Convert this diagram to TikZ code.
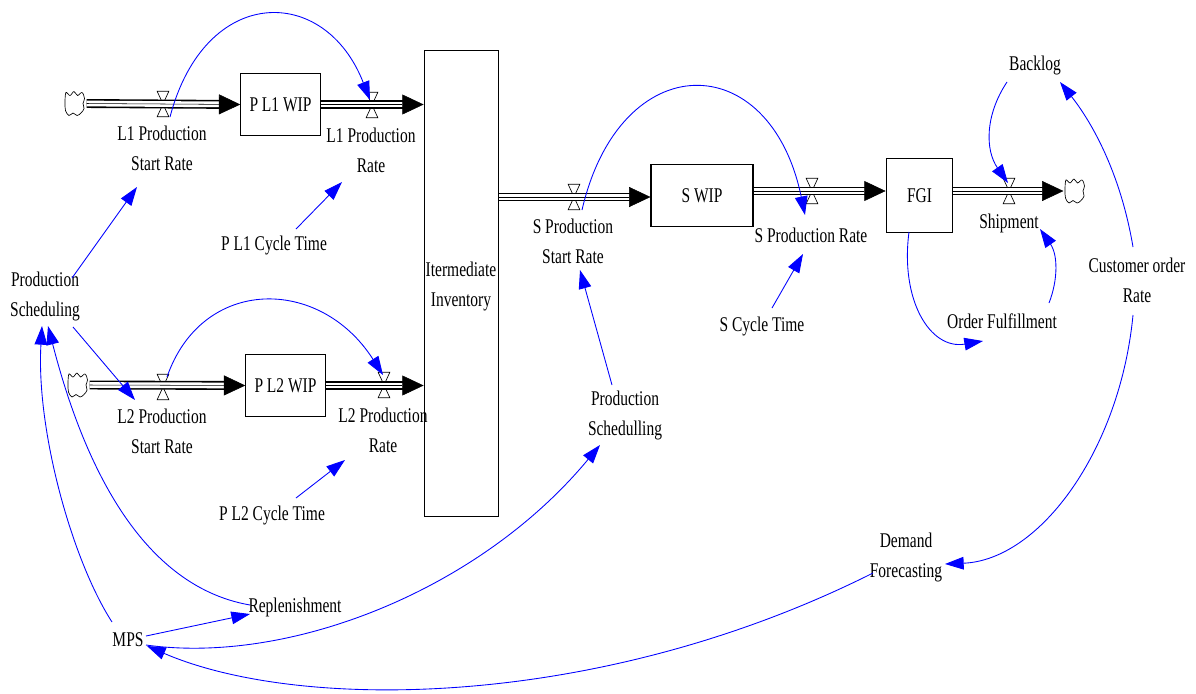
\documentclass[tikz,border=0pt]{standalone}
\usepackage{fontspec}
\setmainfont[FakeStretch=0.74]{Liberation Serif}
\usetikzlibrary{arrows.meta,calc}
\tikzset{
  lbl/.style={align=center,inner sep=1.5pt,font=\fontsize{15.7}{22.5}\selectfont,text=black},
  stock/.style={draw=black,line width=0.85pt,inner sep=0pt,fill=white,lbl},
  valve/.style={minimum width=10pt,minimum height=20pt,inner sep=0pt,path picture={
    \draw[black,line width=0.5pt] ([xshift=.6pt,yshift=-.4pt]path picture bounding box.north west)--([xshift=-.6pt,yshift=-.4pt]path picture bounding box.north east)--([xshift=.6pt,yshift=.4pt]path picture bounding box.south west)--([xshift=-.6pt,yshift=.4pt]path picture bounding box.south east)--cycle;}},
  cloudbox/.style={minimum width=17pt,minimum height=21pt,inner sep=0pt,path picture={
    \draw[black,line width=0.5pt,shift={(path picture bounding box.center)}] plot[smooth cycle,tension=0.6] coordinates {(-9.5,7) (-6,12) (-2,9.5) (2,12) (6,9.5) (9,5) (8,0) (9.5,-5) (7,-11) (2.5,-8) (-1,-12) (-5,-8) (-9,-11) (-10,-2)};}},
  pipe/.style={draw=black,line width=1.2pt,double=white,double distance=4.3pt,shorten >=14pt},
  pipetip/.style={draw=black,line width=0.4pt,-{Triangle[length=16pt,width=15pt,fill=black]}},
  link/.style={draw=blue,line width=0.65pt,-{Triangle[length=14pt,width=9.5pt,fill=blue]}},
}
\begin{document}
\begin{tikzpicture}[x=0.75pt,y=-0.75pt]
\useasboundingbox (0,0) rectangle (1196,693);
% stocks
\node[stock,minimum width=59.5pt,minimum height=47pt] (wip1) at (280.5,104.5) {P L1 WIP};
\node[stock,minimum width=59.5pt,minimum height=47pt] (wip2) at (285.5,385.5) {P L2 WIP};
\node[stock,minimum width=56pt,minimum height=350pt] (inv) at (461.5,283.5) {};
\node[lbl] (invlab) at (461,286) {Itermediate\\Inventory};
\node[stock,minimum width=76.5pt,minimum height=47pt] (swip) at (702,195.5) {S WIP};
\node[stock,minimum width=50pt,minimum height=55pt] (fgi) at (919.5,195.5) {FGI};
% clouds
\node[cloudbox] (c1) at (75,103.5) {};
\node[cloudbox] (c2) at (78,385) {};
\node[cloudbox] (c3) at (1075,191) {};
% valves
\node[valve] (v1) at (163,104) {};
\node[valve] (v2) at (372,105) {};
\node[valve] (v3) at (163,387) {};
\node[valve] (v4) at (384,385) {};
\node[valve] (v5) at (574,197) {};
\node[valve] (v6) at (812,191) {};
\node[valve] (v7) at (1009,191) {};
% labels
\node[lbl] (l1s) at (162,148) {L1 Production\\Start Rate};
\node[lbl] (l1r) at (371,150) {L1 Production\\Rate};
\node[lbl] (cy1) at (274,245) {P L1 Cycle Time};
\node[lbl] (ps) at (45,296) {Production\\Scheduling};
\node[lbl] (l2s) at (162,431) {L2 Production\\Start Rate};
\node[lbl] (l2r) at (383,430) {L2 Production\\Rate};
\node[lbl] (cy2) at (272,515) {P L2 Cycle Time};
\node[lbl] (ss) at (573,241) {S Production\\Start Rate};
\node[lbl] (sr) at (811,235) {S Production Rate};
\node[lbl] (cys) at (762,326) {S Cycle Time};
\node[lbl] (psch) at (625,415) {Production\\Schedulling};
\node[lbl] (back) at (1035,65) {Backlog};
\node[lbl] (ship) at (1009,223) {Shipment};
\node[lbl] (ofu) at (1002,321) {Order Fulfillment};
\node[lbl] (cust) at (1137,280) {Customer order\\Rate};
\node[lbl] (dem) at (906,557) {Demand\\Forecasting};
\node[lbl] (rep) at (295,607) {Replenishment};
\node[lbl] (mps) at (128,640) {MPS};
% pipes
\draw[pipe] (c1.east) -- (wip1.west);
\draw[pipetip] (c1.east) -- (wip1.west);
\draw[pipe] (wip1.east) -- (inv.west |- wip1.east);
\draw[pipetip] (wip1.east) -- (inv.west |- wip1.east);
\draw[pipe] (c2.east) -- (wip2.west);
\draw[pipetip] (c2.east) -- (wip2.west);
\draw[pipe] (wip2.east) -- (inv.west |- wip2.east);
\draw[pipetip] (wip2.east) -- (inv.west |- wip2.east);
\draw[pipe] (inv.east |- v5) -- (swip.west |- v5);
\draw[pipetip] (inv.east |- v5) -- (swip.west |- v5);
\draw[pipe] (swip.east |- v6) -- (fgi.west |- v6);
\draw[pipetip] (swip.east |- v6) -- (fgi.west |- v6);
\draw[pipe] (fgi.east |- v7) -- (c3.west);
\draw[pipetip] (fgi.east |- v7) -- (c3.west);
% links
\draw[link] ($(v1)+(7,13)$) .. controls (205,-16) and (325,-16) .. ($(v2)+(-2,-5)$);
\draw[link] ($(v3)+(4,-10)$) .. controls (202,276) and (320,276) .. ($(v4)+(-1,-10)$);
\draw[link] ($(v5)+(8,13)$) .. controls (620,46) and (770,46) .. ($(v6)+(-7,24)$);
\draw[link] ($(cy1)+(22,-16)$) -- ($(l1r)+(-29,32)$);
\draw[link] ($(cy2)+(24,-17)$) -- ($(l2r)+(-38,30)$);
\draw[link] ($(cys)+(10,-18)$) -- ($(sr)+(-8,19)$);
\draw[link] ($(ps)+(27,-18)$) -- ($(l1s)+(-25,39)$);
\draw[link] ($(ps)+(28,31)$) -- ($(l2s)+(-27,-31)$);
\draw[link] ($(mps)+(-16,-18)$) .. controls (72,560) and (36,430) .. ($(ps)+(-3,30)$);
\draw[link] ($(rep)+(-45,-2)$) .. controls (135,585) and (80,450) .. ($(ps)+(3,30)$);
\draw[link] ($(mps)+(18,-4)$) -- ($(rep)+(-45,7)$);
\draw[link] ($(mps)+(18,5)$) .. controls (290,665) and (480,590) .. ($(psch)+(-25,30)$);
\draw[link] ($(psch)+(-13,-30)$) -- ($(ss)+(7,29)$);
\draw[link] ($(dem)+(-33,16)$) .. controls (600,710) and (300,712) .. ($(mps)+(19,6)$);
\draw[link] ($(cust)+(-4,35)$) .. controls (1120,450) and (1040,560) .. ($(dem)+(39,7)$);
\draw[link] ($(cust)+(-4,-33)$) .. controls (1120,170) and (1090,120) .. ($(back)+(25,17)$);
\draw[link] ($(back)+(-28,17)$) .. controls (985,115) and (985,150) .. ($(v7)+(-1,-8)$);
\draw[link] ($(ofu)+(47,-18)$) .. controls (1058,280) and (1058,255) .. ($(ship)+(31,6)$);
\draw[link] ($(fgi)+(-10.5,36.5)$) .. controls (900,300) and (930,350) .. ($(ofu)+(-19,20)$);
\end{tikzpicture}
\end{document}
